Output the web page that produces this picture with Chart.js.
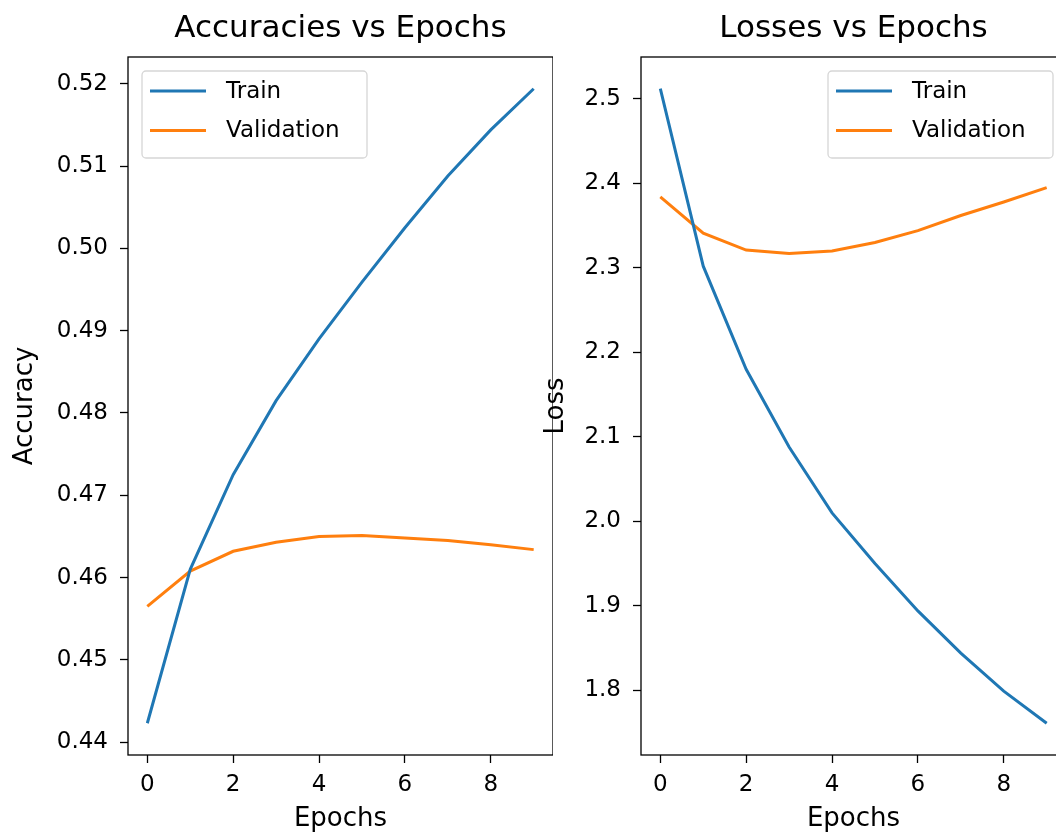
<!DOCTYPE html>
<html>
<head>
<meta charset="utf-8">
<script src="https://cdn.jsdelivr.net/npm/chart.js@4"></script>
<style>
  html, body { margin: 0; padding: 0; background: #fff; overflow: hidden; }
  body { width: 1056px; height: 835px; position: relative; }
  canvas { position: absolute; top: 0; }
  #acc { left: 0; }
  #loss { left: 540px; }
</style>
</head>
<body>
<canvas id="acc" width="553" height="835"></canvas>
<canvas id="loss" width="526" height="835"></canvas>
<script>
const epochs = [0, 1, 2, 3, 4, 5, 6, 7, 8, 9];
const accTrain = [0.4423, 0.4610, 0.4725, 0.4815, 0.4890, 0.4959, 0.5025, 0.5088, 0.5144, 0.5194];
const accVal = [0.4565, 0.4608, 0.4632, 0.4643, 0.4650, 0.4651, 0.4648, 0.4645, 0.4640, 0.4634];
const lossTrain = [2.512, 2.302, 2.180, 2.088, 2.010, 1.950, 1.894, 1.844, 1.799, 1.761];
const lossVal = [2.384, 2.341, 2.321, 2.317, 2.320, 2.330, 2.344, 2.362, 2.378, 2.395];

const xTicks = [0, 2, 4, 6, 8];
const accTicks = [0.44, 0.45, 0.46, 0.47, 0.48, 0.49, 0.50, 0.51, 0.52];
const lossTicks = [1.8, 1.9, 2.0, 2.1, 2.2, 2.3, 2.4, 2.5];

const FONT = "'DejaVu Sans', sans-serif";
const BLUE = "#1f77b4";
const ORANGE = "#ff7f0e";

// matplotlib style 5% margins
function limits(arrs) {
  const all = [].concat(...arrs);
  const lo = Math.min(...all), hi = Math.max(...all);
  const m = (hi - lo) * 0.05;
  return [lo - m, hi + m];
}

const framePlugin = {
  id: "frame",
  afterDatasetsDraw(chart) {
    const { ctx, chartArea: a } = chart;
    ctx.save();
    ctx.strokeStyle = "#000";
    ctx.lineWidth = 1.3;
    ctx.strokeRect(a.left, a.top, a.right - a.left, a.bottom - a.top);
    ctx.restore();
  }
};

// title centred over the plot area, like matplotlib's ax.set_title
const axTitle = {
  id: "axTitle",
  afterDraw(chart, args, opts) {
    const { ctx, chartArea: a } = chart;
    ctx.save();
    ctx.font = "31px " + FONT;
    ctx.fillStyle = "#000";
    ctx.textAlign = "center";
    ctx.textBaseline = "middle";
    ctx.fillText(opts.text, (a.left + a.right) / 2, 29);
    ctx.restore();
  }
};

const boxLegend = {
  id: "boxLegend",
  afterDraw(chart, args, opts) {
    const { ctx, chartArea: a } = chart;
    const w = 225, h = 87;
    const x = opts.side === "right" ? a.right - 13 - w : a.left + 14;
    const y = a.top + 14;
    ctx.save();
    ctx.fillStyle = "rgba(255,255,255,0.8)";
    ctx.strokeStyle = "#d6d6d6";
    ctx.lineWidth = 1.3;
    ctx.beginPath();
    ctx.roundRect(x, y, w, h, 4);
    ctx.fill();
    ctx.stroke();
    ctx.font = "23px " + FONT;
    ctx.textBaseline = "middle";
    chart.data.datasets.forEach((ds, i) => {
      const ly = y + 20 + i * 39.5;
      ctx.strokeStyle = ds.borderColor;
      ctx.lineWidth = 3;
      ctx.beginPath();
      ctx.moveTo(x + 8, ly);
      ctx.lineTo(x + 64, ly);
      ctx.stroke();
      ctx.fillStyle = "#000";
      ctx.fillText(ds.label, x + 84, ly + 1);
    });
    ctx.restore();
  }
};

function makeChart(id, title, yLabel, train, val, yTicks, digits, yWidth, labelPad, side) {
  const [ymin, ymax] = limits([train, val]);
  const pts = (arr) => arr.map((v, i) => ({ x: epochs[i], y: v }));
  return new Chart(document.getElementById(id), {
    type: "line",
    data: {
      datasets: [
        { label: "Train", data: pts(train), borderColor: BLUE, backgroundColor: BLUE },
        { label: "Validation", data: pts(val), borderColor: ORANGE, backgroundColor: ORANGE }
      ]
    },
    options: {
      responsive: false,
      animation: false,
      devicePixelRatio: 1,
      layout: { padding: { top: 57, left: 0, right: 0, bottom: 0 } },
      elements: {
        line: { borderWidth: 3, tension: 0 },
        point: { radius: 0 }
      },
      plugins: {
        legend: { display: false },
        tooltip: { enabled: false },
        title: { display: false },
        axTitle: { text: title },
        boxLegend: { side: side }
      },
      scales: {
        x: {
          type: "linear",
          min: -0.45,
          max: 9.45,
          afterBuildTicks: (s) => { s.ticks = xTicks.map((v) => ({ value: v })); },
          afterFit: (s) => { s.height = 80; },
          grid: { drawOnChartArea: false, tickLength: 8, tickColor: "#000", tickWidth: 1.3 },
          border: { display: false },
          ticks: { color: "#000", padding: 8, font: { family: FONT, size: 23 } },
          title: {
            display: true, text: "Epochs", color: "#000",
            font: { family: FONT, size: 26 }, padding: 0
          }
        },
        y: {
          min: ymin,
          max: ymax,
          afterBuildTicks: (s) => { s.ticks = yTicks.map((v) => ({ value: v })); },
          afterFit: (s) => { s.width = yWidth; },
          grid: { drawOnChartArea: false, tickLength: 8, tickColor: "#000", tickWidth: 1.3 },
          border: { display: false },
          ticks: {
            color: "#000", padding: 12, font: { family: FONT, size: 23 },
            callback: (v) => Number(v).toFixed(digits)
          },
          title: {
            display: true, text: yLabel, color: "#000",
            font: { family: FONT, size: 26 }, padding: { top: labelPad, bottom: 0 }
          }
        }
      }
    },
    plugins: [framePlugin, axTitle, boxLegend]
  });
}

makeChart("acc", "Accuracies vs Epochs", "Accuracy", accTrain, accVal, accTicks, 2, 128, 10, "left");
makeChart("loss", "Losses vs Epochs", "Loss", lossTrain, lossVal, lossTicks, 1, 101, 1, "right");
</script>
</body>
</html>
